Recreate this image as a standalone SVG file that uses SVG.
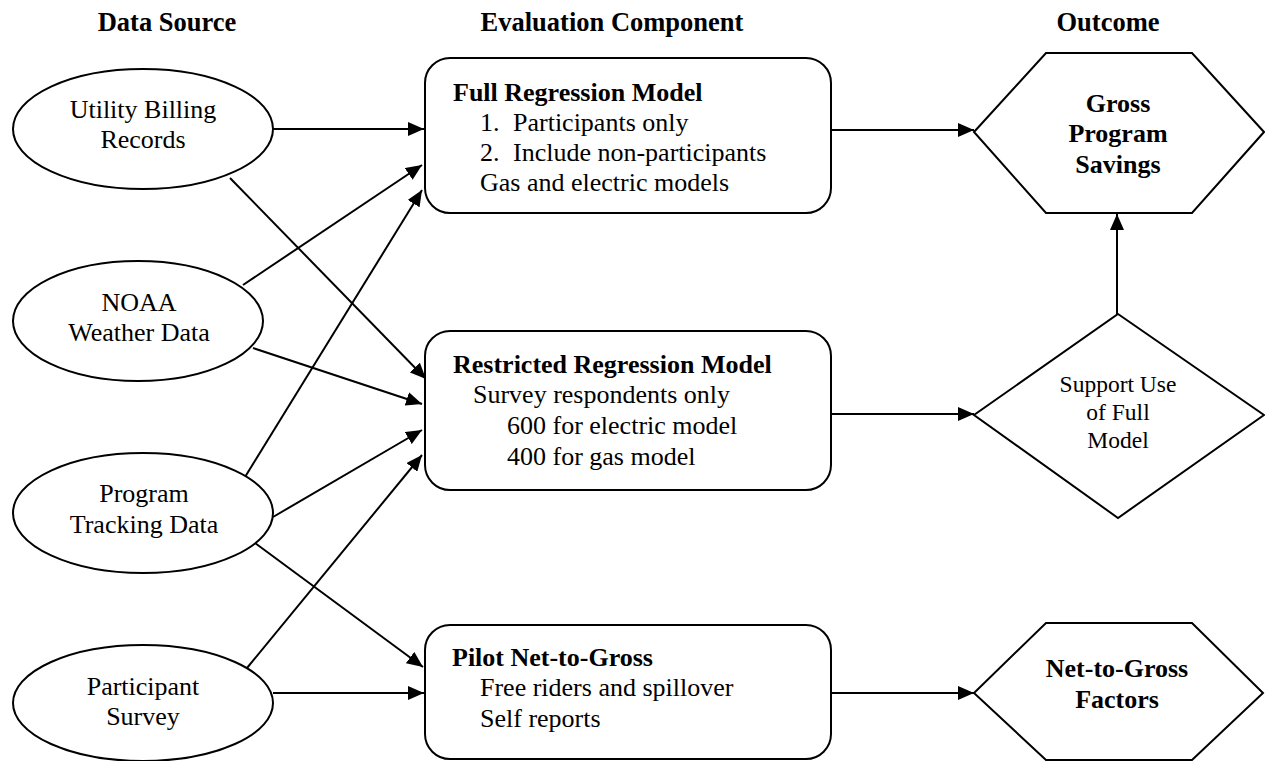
<svg xmlns="http://www.w3.org/2000/svg" width="1265" height="761" viewBox="0 0 1265 761">
  <style>
    text { font-family: "Liberation Serif", "Times New Roman", serif; fill: #000; }
    .hdr { font-size: 26.5px; font-weight: bold; text-anchor: middle; }
    .lbl { font-size: 26px; }
    .ctr { text-anchor: middle; }
    .b { font-weight: bold; }
    .sm { font-size: 23.5px; text-anchor: middle; }
    .shape { fill: #fff; stroke: #000; stroke-width: 2; }
    .conn line { stroke: #000; stroke-width: 2; marker-end: url(#arrow); }
  </style>
  <defs>
    <marker id="arrow" markerUnits="userSpaceOnUse" markerWidth="16" markerHeight="14" refX="16" refY="7" orient="auto">
      <path d="M0,0 L16,7 L0,14 z" fill="#000"/>
    </marker>
  </defs>
  <rect width="1265" height="761" fill="#fff"/>

  <!-- column headings -->
  <g id="headings">
    <text class="hdr" x="167" y="31">Data Source</text>
    <text class="hdr" x="612" y="31">Evaluation Component</text>
    <text class="hdr" x="1108" y="31">Outcome</text>
  </g>

  <!-- connectors -->
  <g class="conn" id="connectors">
    <line x1="273" y1="129" x2="424" y2="129"/>
    <line x1="243" y1="285" x2="422" y2="165"/>
    <line x1="245" y1="477" x2="422" y2="190"/>
    <line x1="230" y1="178" x2="426" y2="379"/>
    <line x1="253" y1="348" x2="422" y2="404"/>
    <line x1="273" y1="517" x2="422" y2="430"/>
    <line x1="247" y1="668" x2="422" y2="455"/>
    <line x1="255" y1="543" x2="423" y2="667"/>
    <line x1="273" y1="693" x2="424" y2="693"/>
    <line x1="831" y1="130" x2="974" y2="130"/>
    <line x1="831" y1="414" x2="974" y2="414"/>
    <line x1="1117" y1="314" x2="1117" y2="214"/>
    <line x1="831" y1="693" x2="974" y2="693"/>
  </g>

  <!-- data sources -->
  <g id="utility-billing">
    <ellipse class="shape" cx="143" cy="129" rx="130" ry="60"/>
    <text class="lbl ctr" x="143" y="118">Utility Billing</text>
    <text class="lbl ctr" x="143" y="148">Records</text>
  </g>
  <g id="noaa-weather">
    <ellipse class="shape" cx="138" cy="321" rx="125" ry="60"/>
    <text class="lbl ctr" x="139" y="311">NOAA</text>
    <text class="lbl ctr" x="139" y="341">Weather Data</text>
  </g>
  <g id="program-tracking">
    <ellipse class="shape" cx="143" cy="513" rx="130" ry="60"/>
    <text class="lbl ctr" x="144" y="502">Program</text>
    <text class="lbl ctr" x="144" y="533">Tracking Data</text>
  </g>
  <g id="participant-survey">
    <ellipse class="shape" cx="143" cy="703" rx="130" ry="58"/>
    <text class="lbl ctr" x="143" y="695">Participant</text>
    <text class="lbl ctr" x="143" y="725">Survey</text>
  </g>

  <!-- evaluation components -->
  <g id="full-regression">
    <rect class="shape" x="425" y="58" width="406" height="155" rx="25"/>
    <text class="lbl b" x="453" y="101">Full Regression Model</text>
    <text class="lbl" x="480" y="131">1.</text>
    <text class="lbl" x="513" y="131">Participants only</text>
    <text class="lbl" x="480" y="161">2.</text>
    <text class="lbl" x="513" y="161">Include non-participants</text>
    <text class="lbl" x="480" y="191">Gas and electric models</text>
  </g>
  <g id="restricted-regression">
    <rect class="shape" x="425" y="331" width="406" height="159" rx="25"/>
    <text class="lbl b" x="453" y="373">Restricted Regression Model</text>
    <text class="lbl" x="473" y="403">Survey respondents only</text>
    <text class="lbl" x="507" y="434">600 for electric model</text>
    <text class="lbl" x="507" y="465">400 for gas model</text>
  </g>
  <g id="pilot-ntg">
    <rect class="shape" x="425" y="625" width="406" height="134" rx="25"/>
    <text class="lbl b" x="452" y="666">Pilot Net-to-Gross</text>
    <text class="lbl" x="480" y="696">Free riders and spillover</text>
    <text class="lbl" x="480" y="727">Self reports</text>
  </g>

  <!-- outcomes -->
  <g id="gross-savings">
    <polygon class="shape" points="974,132 1046,53 1192,53 1264,132 1192,213 1046,213"/>
    <text class="lbl b ctr" x="1118" y="112">Gross</text>
    <text class="lbl b ctr" x="1118" y="142">Program</text>
    <text class="lbl b ctr" x="1118" y="173">Savings</text>
  </g>
  <g id="support-full-model">
    <polygon class="shape" points="1118,314 1264,415 1118,518 974,415"/>
    <text class="sm" x="1118" y="392">Support Use</text>
    <text class="sm" x="1118" y="420">of Full</text>
    <text class="sm" x="1118" y="448">Model</text>
  </g>
  <g id="ntg-factors">
    <polygon class="shape" points="974,693 1046,623 1192,623 1263,693 1192,760 1046,760"/>
    <text class="lbl b ctr" x="1117" y="677">Net-to-Gross</text>
    <text class="lbl b ctr" x="1117" y="708">Factors</text>
  </g>
</svg>
